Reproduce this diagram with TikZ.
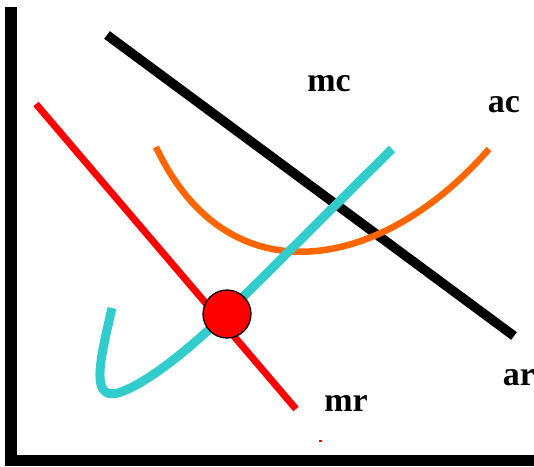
\documentclass[tikz,border=0pt]{standalone}
\usepackage{fontspec}
\setmainfont{Liberation Serif}
\usepackage{tikz}
\usetikzlibrary{arrows.meta}
\definecolor{mccyan}{HTML}{33CCCC}
\definecolor{acorange}{HTML}{FF6600}
\definecolor{mrred}{HTML}{FF0000}
\tikzset{
  every picture/.style={line join=round, line cap=butt, >=Stealth},
  axisline/.style={line width=11.5pt, black},
  curvelbl/.style={font=\fontsize{34}{40}\selectfont\bfseries, inner sep=0pt},
}

\begin{document}
\begin{tikzpicture}[x=1pt,y=-1pt]
\useasboundingbox (0,0) rectangle (534,466);
% axes
\draw[axisline](11,7)--(11,466);
\draw[axisline](5,460.5)--(534,460.5);
% demand (ar) and marginal revenue (mr)
\draw[line width=9.5pt,black](107,35)--(514,336);
\draw[line width=7pt,mrred](36,104)--(296,409);
% average cost
\draw[line width=6.5pt,acorange](156,147) .. controls (228,300) and (382,272) .. (489,149);
% marginal cost
\draw[line width=9pt,mccyan](112,308) .. controls (100,360) and (90,400) .. (118,393)
  .. controls (150,383) and (200,340) .. (240,300) -- (392,149);
\draw[line width=1.2pt,mrred](319,441)--(322,441);
% equilibrium point
\node[circle,draw=black,line width=1.3pt,fill=mrred,minimum size=48pt,inner sep=0pt] (eq) at (227,314) {};
% labels
\node[curvelbl] (mc) at (329,84) {mc};
\node[curvelbl] (ac) at (504,105) {ac};
\node[curvelbl] (ar) at (519,378) {ar};
\node[curvelbl] (mr) at (346,403) {mr};
\end{tikzpicture}
\end{document}
